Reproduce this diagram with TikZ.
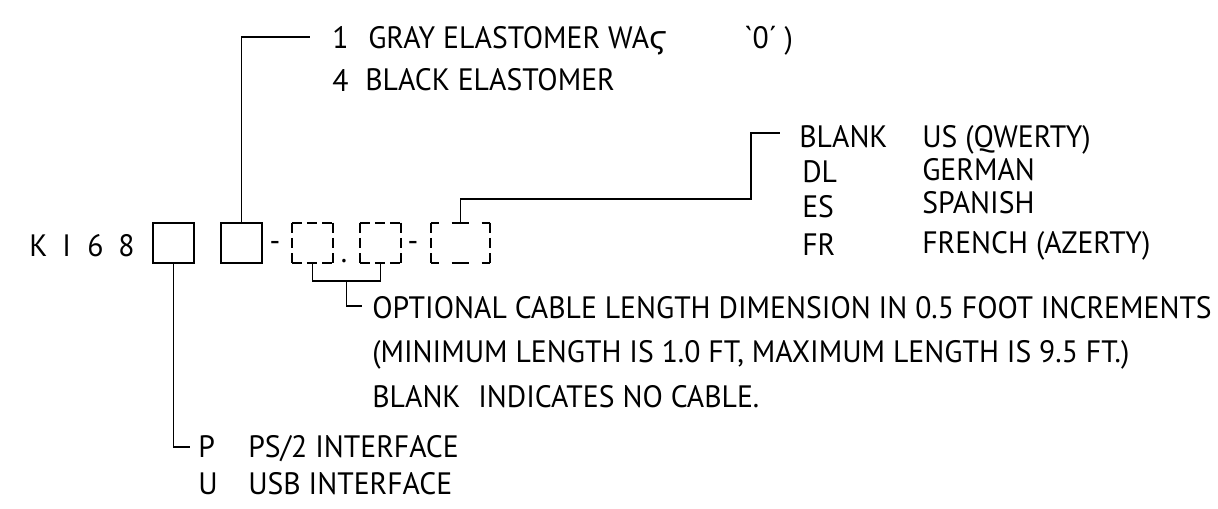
\documentclass[tikz,border=0pt]{standalone}
\usepackage{fontspec}
\newfontfamily\labelfont{PT Sans}[FakeStretch=0.96]
\newfontfamily\grkfont{DejaVu Sans}
\usepackage{tikz}
\usetikzlibrary{positioning,calc}
\definecolor{ink}{HTML}{000000}
\tikzset{
  wire/.style={draw=ink,line width=1.4pt},
  slot/.style={draw=ink,line width=1.4pt,minimum width=1.025cm,minimum height=1cm,inner sep=0pt},
  optslot/.style={draw=none,minimum width=1.025cm,minimum height=1cm,inner sep=0pt},
  dashside/.style={draw=ink,line width=1.4pt,dash pattern=on 2.5mm off 1.3mm},
  widedash/.style={draw=ink,line width=1.4pt,dash pattern=on 2mm off 3.25mm on 4.25mm off 3.25mm on 2mm off 20mm},
  lbl/.style={font=\labelfont\fontsize{22}{26}\selectfont,anchor=base west,inner sep=0pt,text=ink},
}

\begin{document}
\begin{tikzpicture}[x=0.025cm,y=-0.025cm]
  \useasboundingbox (0,0) rectangle (1218,508);
  % part number
  \foreach \c/\x in {K/29,I/62,6/87,8/118}
    {\node[lbl] (pn\c) at (\x,256) {\c};}
  \node[slot] (ifc) at (173.5,243) {};
  \node[slot] (key) at (241.5,243) {};
  \node[lbl,anchor=base] (hyph1) at (275,251) {-};
  \node[optslot] (len1) at (312.5,243) {};
  \node[lbl,anchor=base] (dot) at (344,262) {.};
  \node[optslot] (len2) at (380.5,243) {};
  \node[lbl,anchor=base] (hyph2) at (413,251) {-};
  \node[optslot,minimum width=1.475cm] (lang) at (460.5,243) {};
  \foreach \b in {len1,len2}
    {\draw[dashside] (\b.north west) -- (\b.north east) (\b.south west) -- (\b.south east)
      (\b.north west) -- (\b.south west) (\b.north east) -- (\b.south east);}
  \draw[widedash] (lang.north west) -- (lang.north east) (lang.south west) -- (lang.south east);
  \draw[dashside] (lang.north west) -- (lang.south west) (lang.north east) -- (lang.south east);
  % keycap colour
  \coordinate (keyend) at (310,37);
  \draw[wire] (key.north) |- (keyend);
  \node[lbl] (c1) at (332,48) {1};
  \node[lbl] (d1) at (368,48) {GRAY ELASTOMER WA{\grkfont ϛ}};
  \node[lbl] (d1b) at (744,48) {`0´ )};
  \node[lbl] (c4) at (332,91) {4};
  \node[lbl] (d4) at (365,90) {BLACK ELASTOMER};
  % layout
  \coordinate (langbend) at (751,199);
  \coordinate (langend) at (780,133);
  \draw[wire] (lang.north) |- (langbend) |- (langend);
  \node[lbl] (lblank) at (799,147) {BLANK};
  \node[lbl] (lus) at (922,147) {US (QWERTY)};
  \node[lbl] (ldl) at (802,182) {DL};
  \node[lbl] (lde) at (922,180) {GERMAN};
  \node[lbl] (les) at (802,217) {ES};
  \node[lbl] (lsp) at (922,213) {SPANISH};
  \node[lbl] (lfr) at (802,255) {FR};
  \node[lbl] (lfe) at (922,253) {FRENCH (AZERTY)};
  % cable length
  \coordinate (lenjoin) at ($(len1.south)!.5!(len2.south)+(0,18)$);
  \coordinate (lenend) at (362,306);
  \draw[wire] (len1.south) |- (lenjoin) -| (len2.south);
  \draw[wire] (lenjoin) |- (lenend);
  \node[lbl] (opt1) at (372,318) {OPTIONAL CABLE LENGTH DIMENSION IN 0.5 FOOT INCREMENTS};
  \node[lbl] (opt2) at (372,362) {(MINIMUM LENGTH IS 1.0 FT, MAXIMUM LENGTH IS 9.5 FT.)};
  \node[lbl] (opt3) at (372,407) {BLANK};
  \node[lbl] (opt3b) at (478,407) {INDICATES NO CABLE.};
  % interface
  \coordinate (ifcend) at (190,447);
  \draw[wire] (ifc.south) |- (ifcend);
  \node[lbl] (ip) at (198,457) {P};
  \node[lbl] (ips) at (248,457) {PS/2 INTERFACE};
  \node[lbl] (iu) at (198,494) {U};
  \node[lbl] (ius) at (248,494) {USB INTERFACE};
\end{tikzpicture}
\end{document}
